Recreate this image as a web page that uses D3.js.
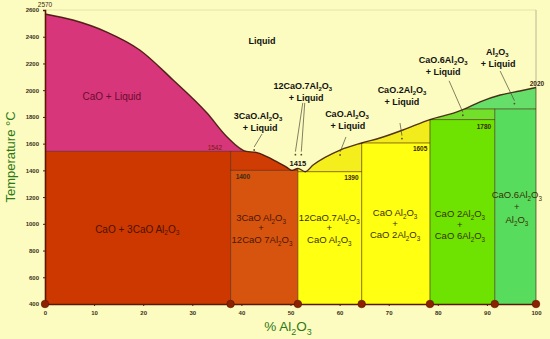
<!DOCTYPE html>
<html>
<head>
<meta charset="utf-8">
<script src="https://cdn.jsdelivr.net/npm/d3@7"></script>
<style>
  html, body { margin: 0; padding: 0; background: #fdfcc0; }
  svg { display: block; }
  text { font-family: "Liberation Sans", Arial, sans-serif; }
</style>
</head>
<body>
<svg id="chart" width="550" height="339"></svg>
<script>
// CaO–Al2O3 phase diagram: temperature (°C) against % Al2O3

// Liquidus: [% Al2O3, °C]
const liquidus = [
  [0, 2570], [5.7, 2525], [12.6, 2435], [19.3, 2301], [26.1, 2076], [33, 1829],
  [37.1, 1650], [41, 1542], [43, 1535], [45.1, 1505], [47.2, 1465], [49.2, 1425],
  [50.3, 1400], [51.5, 1415], [53, 1390], [54.6, 1440], [60.1, 1552], [64.5, 1605],
  [68.2, 1642], [72.9, 1702], [78.4, 1780], [83.9, 1837], [85.5, 1860], [88.6, 1913],
  [92.7, 1964], [96.7, 1994], [100, 2020]
];

// Compounds: composition and top of their vertical line
const compoundPct = [37.8, 51.5, 64.5, 78.4, 91.6, 100];
const compoundTop = [1542, 1415, 1605, 1780, 1860, 2020];

// Invariant (horizontal) lines
const isoT    = [1542, 1400, 1390, 1605, 1780, 1860];
const isoFrom = [0, 37.8, 51.5, 64.5, 78.4, 85.5];
const isoTo   = [41, 51.5, 64.5, 78.4, 91.6, 100];

// Phase fields as composition/temperature boxes; "clip" ones are cut by the liquidus
const fieldFrom = [0, 0, 37.8, 37.8, 51.5, 51.5, 64.5, 64.5, 78.4, 78.4, 91.6, 85.5];
const fieldTo   = [37.8, 45, 51.5, 51.5, 64.5, 64.5, 78.4, 78.4, 91.6, 91.6, 100, 100];
const fieldLow  = [400, 1542, 400, 1400, 400, 1390, 400, 1605, 400, 1780, 400, 1860];
const fieldHigh = [1542, 2600, 1400, 1542, 1390, 2600, 1605, 2600, 1780, 1860, 1860, 2600];
const fieldClip = [false, true, false, true, false, true, false, true, false, true, false, true];

// Axis ticks
const xTicks = [0, 10, 20, 30, 40, 50, 60, 70, 80, 90, 100];
const yTicks = [400, 600, 800, 1000, 1200, 1400, 1600, 1800, 2000, 2200, 2400, 2600];

// Field names inside the solid regions: [text, % Al2O3, °C]
const innerLabels = [
  ["CaO + Liquid", 13.6, 1956],
  ["CaO + 3CaO Al2O3", 18.8, 961],
  ["3CaO Al2O3", 44, 1044], ["+", 44, 969], ["12CaO 7Al2O3", 44.2, 879],
  ["12CaO.7Al2O3", 57.9, 1044], ["+", 57.9, 969], ["CaO Al2O3", 57.9, 879],
  ["CaO Al2O3", 71.3, 1081], ["+", 71.3, 999], ["CaO 2Al2O3", 71.3, 916],
  ["CaO 2Al2O3", 84.5, 1074], ["+", 84.5, 991], ["CaO 6Al2O3", 84.5, 909],
  ["CaO.6Al2O3", 96.1, 1216], ["+", 96.1, 1126], ["Al2O3", 96.1, 1029]
];

// Field names in the liquid region
const outerLabels = [
  ["Liquid", 44.2, 2370],
  ["3CaO.Al2O3", 43.4, 1810], ["+ Liquid", 43.8, 1717],
  ["12CaO.7Al2O3", 52.5, 2034], ["+ Liquid", 53.2, 1946],
  ["CaO.Al2O3", 61.5, 1825], ["+ Liquid", 61.7, 1730],
  ["CaO.2Al2O3", 72.7, 2004], ["+ Liquid", 72.7, 1909],
  ["CaO.6Al2O3", 81.1, 2230], ["+ Liquid", 81.1, 2140],
  ["Al2O3", 92.1, 2290], ["+ Liquid", 92.3, 2200]
];

// Leader lines: [from %, from °C, to %, to °C]
const leaders = [
  [44.2, 1672, 42.6, 1575],
  [52.5, 1905, 51.0, 1540],
  [52.9, 1905, 52.2, 1540],
  [61.3, 1650, 60.1, 1538],
  [72.3, 1754, 72.7, 1660],
  [82.3, 2070, 85.1, 1835],
  [92.7, 2143, 95.6, 1922]
];

// Temperatures written next to invariant points: [text, % Al2O3, °C]
const tempLabels = [
  ["1542", 34.6, 1572],
  ["1415", 51.5, 1452],
  ["1400", 40.3, 1350],
  ["1390", 62.4, 1343],
  ["1605", 76.4, 1560],
  ["1780", 89.4, 1724],
  ["2020", 100.2, 2046]
];

// ---------- drawing ----------
const svg = d3.select("#chart");
const x = d3.scaleLinear().domain([0, 100]).range([45, 536]);
const y = d3.scaleLinear().domain([400, 2600]).range([304, 10]);

const fieldColors = ["#cd3800", "#d8367a", "#d7540f", "#cf3d04", "#ffff12", "#f4ee1c",
                     "#ffff12", "#f2ec1c", "#6ee200", "#72e02a", "#58dc5e", "#66de6a"];

svg.append("rect").attr("width", 550).attr("height", 339).attr("fill", "#fdfcc0");

// clip region: everything under the liquidus
const under = d3.area()
  .x(d => x(d[0])).y0(y(400)).y1(d => y(d[1]))
  .curve(d3.curveMonotoneX);
svg.append("clipPath").attr("id", "solidClip")
  .append("path").attr("d", under(liquidus));

const fieldIdx = d3.range(fieldFrom.length);
svg.append("g").selectAll("rect")
  .data(fieldIdx)
  .join("rect")
  .attr("x", i => x(fieldFrom[i]))
  .attr("width", i => x(fieldTo[i]) - x(fieldFrom[i]))
  .attr("y", i => y(fieldHigh[i]))
  .attr("height", i => y(fieldLow[i]) - y(fieldHigh[i]))
  .attr("fill", i => fieldColors[i])
  .attr("clip-path", i => fieldClip[i] ? "url(#solidClip)" : null);

// faint frame above the liquidus
svg.append("line")
  .attr("x1", x(0)).attr("x2", x(100)).attr("y1", y(2600)).attr("y2", y(2600))
  .attr("stroke", "#e6e2a6").attr("stroke-width", 1);
svg.append("line")
  .attr("x1", x(100)).attr("x2", x(100)).attr("y1", y(2600)).attr("y2", y(2020))
  .attr("stroke", "#a8a488").attr("stroke-width", 0.8);

// invariant lines
svg.append("g").selectAll("line")
  .data(d3.range(isoT.length))
  .join("line")
  .attr("x1", i => x(isoFrom[i])).attr("x2", i => x(isoTo[i]))
  .attr("y1", i => y(isoT[i])).attr("y2", i => y(isoT[i]))
  .attr("stroke", "rgba(70,20,0,0.6)").attr("stroke-width", 1);

// compound lines
svg.append("g").selectAll("line")
  .data(d3.range(compoundPct.length))
  .join("line")
  .attr("x1", i => x(compoundPct[i])).attr("x2", i => x(compoundPct[i]))
  .attr("y1", y(400)).attr("y2", i => y(compoundTop[i]))
  .attr("stroke", "rgba(60,20,0,0.6)").attr("stroke-width", 1);

// liquidus curve
svg.append("path")
  .attr("d", d3.line().x(d => x(d[0])).y(d => y(d[1])).curve(d3.curveMonotoneX)(liquidus))
  .attr("fill", "none").attr("stroke", "rgba(55,15,5,0.85)").attr("stroke-width", 1.4);

// axes
const axisColor = "#5a1800";
const xAxis = svg.append("g").attr("transform", `translate(0,${y(400)})`)
  .call(d3.axisBottom(x).tickValues(xTicks).tickFormat(d3.format("d")).tickSize(2).tickPadding(5));
const yAxis = svg.append("g").attr("transform", `translate(${x(0)},0)`)
  .call(d3.axisLeft(y).tickValues(yTicks).tickFormat(d3.format("d")).tickSize(2).tickPadding(4));
[xAxis, yAxis].forEach(g => {
  g.select(".domain").attr("stroke", axisColor).attr("stroke-width", 1.6);
  g.selectAll(".tick line").attr("stroke", axisColor);
  g.selectAll(".tick text")
    .attr("fill", "#3a3020").attr("font-size", 6).attr("font-weight", "bold")
    .attr("font-family", "'Liberation Sans', Arial, sans-serif");
});

// compound markers on the composition axis
svg.append("g").selectAll("circle")
  .data([0].concat(compoundPct))
  .join("circle")
  .attr("cx", d => x(d)).attr("cy", y(400)).attr("r", 3.8)
  .attr("fill", "#8c2200").attr("stroke", "#5a1400").attr("stroke-width", 0.6);

// text with chemical subscripts (Al2O3 -> Al₂O₃)
function chem(sel, str, size) {
  const segs = [];
  for (let i = 0; i < str.length; i++) {
    const c = str[i];
    const prev = i > 0 ? str[i - 1] : "";
    const prevSub = segs.length && segs[segs.length - 1].sub;
    const sub = /[0-9]/.test(c) && (/[A-Za-z]/.test(prev) || (prevSub && /[0-9]/.test(prev)));
    if (segs.length && segs[segs.length - 1].sub === sub) segs[segs.length - 1].t += c;
    else segs.push({ t: c, sub: sub });
  }
  const shift = size * 0.28;
  segs.forEach((s, k) => {
    const ts = sel.append("tspan").text(s.t);
    if (s.sub) ts.attr("font-size", size * 0.66).attr("dy", shift);
    else if (k > 0 && segs[k - 1].sub) ts.attr("dy", -shift);
  });
}

function label(rows, size, color, weight) {
  rows.forEach(r => {
    const t = svg.append("text")
      .attr("x", x(r[1])).attr("y", y(r[2]) + size * 0.35)
      .attr("text-anchor", "middle")
      .attr("font-size", size).attr("font-weight", weight)
      .attr("fill", color);
    chem(t, r[0], size);
  });
}

// leader lines with end dots
svg.append("g").selectAll("line")
  .data(leaders)
  .join("line")
  .attr("x1", d => x(d[0])).attr("y1", d => y(d[1]))
  .attr("x2", d => x(d[2])).attr("y2", d => y(d[3]))
  .attr("stroke", "#4a4a3a").attr("stroke-width", 0.7);
svg.append("g").selectAll("circle")
  .data(leaders)
  .join("circle")
  .attr("cx", d => x(d[2])).attr("cy", d => y(d[3]) + 3)
  .attr("r", 0.9).attr("fill", "#5a4a20");

label(outerLabels, 9, "#111", "bold");
label(innerLabels.slice(0, 1), 10, "#6a0c2c", "normal");
label(innerLabels.slice(1, 2), 10, "#4a1200", "normal");
label(innerLabels.slice(2, 5), 9.5, "#4a1600", "normal");
label(innerLabels.slice(5), 9.5, "#3a3000", "normal");

// temperatures at invariant points
label(tempLabels.slice(0, 1), 6.5, "#7a1a10", "normal");
label(tempLabels.slice(1, 2), 7.5, "#111", "bold");
label(tempLabels.slice(2), 6.5, "#3a2a10", "bold");

// melting point of CaO at the top of the axis
svg.append("text")
  .attr("x", x(0)).attr("y", y(liquidus[0][1]) - 7)
  .attr("text-anchor", "middle")
  .attr("font-size", 6.5).attr("fill", "#3a2a10")
  .text(liquidus[0][1]);

// axis titles
svg.append("text")
  .attr("transform", `translate(15,${y(1500)}) rotate(-90)`)
  .attr("text-anchor", "middle")
  .attr("font-size", 13).attr("fill", "#2e7818")
  .text("Temperature °C");
const xt = svg.append("text")
  .attr("x", 288).attr("y", 331)
  .attr("text-anchor", "middle")
  .attr("font-size", 13.5).attr("fill", "#2e7818");
chem(xt, "% Al2O3", 13.5);
</script>
</body>
</html>
